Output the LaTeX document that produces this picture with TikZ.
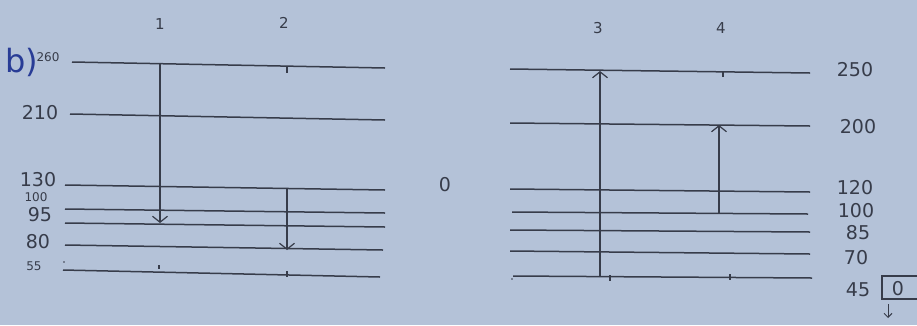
\documentclass[tikz,border=0pt]{standalone}
\usepackage{fontspec}
\setmainfont{DejaVu Sans}
\usetikzlibrary{arrows.meta}
\definecolor{paper}{RGB}{180,194,216}
\definecolor{ink}{RGB}{55,60,74}
\definecolor{pen}{RGB}{40,60,150}
\tikzset{
  level/.style={draw=ink, line width=1.5pt},
  trans/.style={draw=ink, line width=1.2pt, -{Straight Barb[length=6pt,width=15pt,line width=1.2pt]}},
  tick/.style={draw=ink, line width=1.1pt},
  lab/.style={text=ink, font=\fontsize{19}{19}\selectfont, inner sep=0pt},
  small/.style={text=ink, font=\fontsize{12}{12}\selectfont, inner sep=0pt},
  col/.style={text=ink, font=\fontsize{15}{15}\selectfont, inner sep=0pt}
}
\begin{document}
\begin{tikzpicture}[x=1pt,y=-1pt]
\useasboundingbox[fill=paper] (0,0) rectangle (917,325);
% left levels
\draw[level] (72,62) -- (385,68);
\draw[level] (70,114) -- (385,120);
\draw[level] (65,185) -- (385,190);
\draw[level] (65,209) -- (385,213);
\draw[level] (65,223) -- (385,227);
\draw[level] (65,245) -- (383,250);
\draw[level] (63,270) -- (380,277);
% right levels
\draw[level] (510,69) -- (810,73);
\draw[level] (510,123) -- (810,126);
\draw[level] (510,189) -- (810,192);
\draw[level] (512,212) -- (808,214);
\draw[level] (510,230) -- (810,232);
\draw[level] (510,251) -- (810,254);
\draw[level] (513,276) -- (812,278);
% transition endpoints
\coordinate (a1) at (160,63);
\coordinate (b1) at (160,223);
\coordinate (a2) at (287,189);
\coordinate (b2) at (287,250);
\coordinate (a3) at (600,277);
\coordinate (b3) at (600,71);
\coordinate (a4) at (719,213);
\coordinate (b4) at (719,125);
\draw[trans] (a1) -- (b1);
\draw[trans] (a2) -- (b2);
\draw[trans] (a3) -- (b3);
\draw[trans] (a4) -- (b4);
% ticks
\draw[tick] (287,67) -- (287,73);
\draw[tick] (159,265) -- (159,269);
\draw[tick] (287,271) -- (287,277);
\draw[tick] (723,72) -- (723,77);
\draw[tick] (610,275) -- (610,281);
\draw[tick] (730,274) -- (730,280);
\fill[ink] (64,262) circle (0.9);
\fill[ink] (512,279) circle (0.9);
% column labels
\node[col] (c1) at (160,24) {1};
\node[col] (c2) at (284,23) {2};
\node[col] (c3) at (598,28) {3};
\node[col] (c4) at (721,28) {4};
% part label
\node[text=pen, font=\fontsize{32}{32}\selectfont, inner sep=0pt] (b) at (22,62) {b)};
% left energy labels
\node[small] (l260) at (48,57) {260};
\node[lab] (l210) at (40,113) {210};
\node[lab] (l130) at (38,180) {130};
\node[small] (l100) at (36,197) {100};
\node[lab] (l95) at (40,215) {95};
\node[lab] (l80) at (38,242) {80};
\node[small] (l55) at (34,266) {55};
% center
\node[lab] (zero) at (445,185) {0};
% right energy labels
\node[lab] (r250) at (855,70) {250};
\node[lab] (r200) at (858,127) {200};
\node[lab] (r120) at (855,188) {120};
\node[lab] (r100) at (856,211) {100};
\node[lab] (r85) at (858,233) {85};
\node[lab] (r70) at (856,258) {70};
\node[lab] (r45) at (858,290) {45};
\node[lab] (box0) at (898,289) {0};
\draw[ink, line width=1.1pt] (917,276) -- (882,276) -- (882,299) -- (917,299);
\coordinate (d1) at (888,304);
\coordinate (d2) at (888,318);
\draw[ink, line width=1pt, -{Straight Barb[length=4pt,width=8pt]}] (d1) -- (d2);
\end{tikzpicture}
\end{document}
